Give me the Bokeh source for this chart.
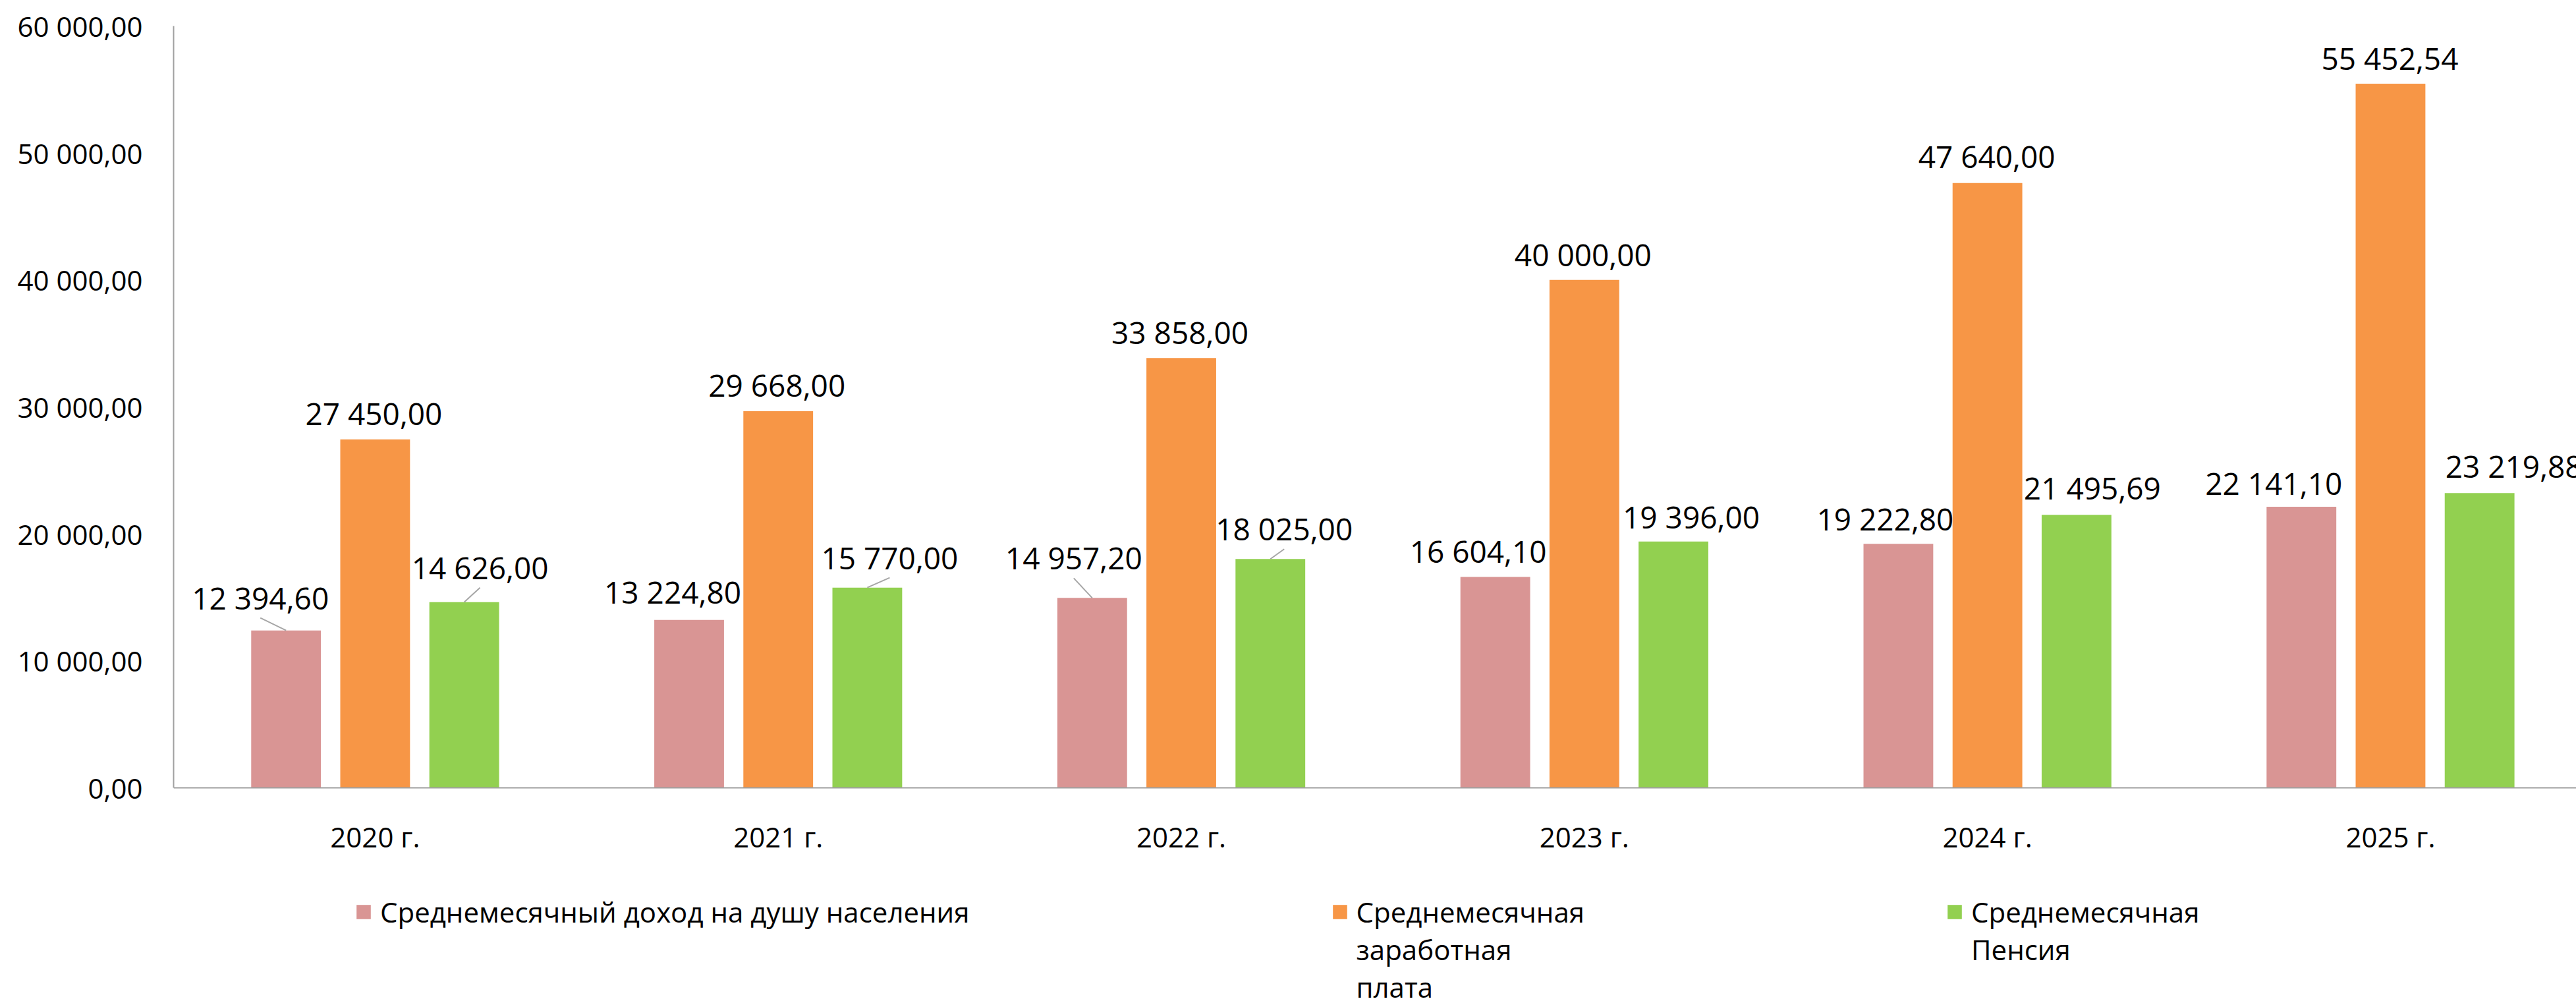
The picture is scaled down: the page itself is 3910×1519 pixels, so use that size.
import numpy as np
from bokeh.plotting import figure
from bokeh.models import Range1d, FixedTicker, ColumnDataSource, Legend, LegendItem
from bokeh.transform import dodge
from bokeh.core.properties import value
from bokeh.embed import file_html
from bokeh.resources import INLINE

# ---------------- data ----------------
years = ["2020 г.", "2021 г.", "2022 г.", "2023 г.", "2024 г.", "2025 г."]
income = [12394.60, 13224.80, 14957.20, 16604.10, 19222.80, 22141.10]
salary = [27450.00, 29668.00, 33858.00, 40000.00, 47640.00, 55452.54]
pension = [14626.00, 15770.00, 18025.00, 19396.00, 21495.69, 23219.88]
series_names = [
    ["Среднемесячный доход на душу населения"],
    ["Среднемесячная", "заработная", "плата"],
    ["Среднемесячная", "Пенсия"],
]
y_ticks = [0, 10000, 20000, 30000, 40000, 50000, 60000]

# ---------------- styling ----------------
colors = ["#D99594", "#F79646", "#92D050"]
dodges = [-0.221, 0.0, 0.221]
bar_w = 0.173
FONT = "Open Sans"
FS = "42px"
LFS = "46px"
# label placement (screen px): horizontal shift and height of label centre above bar top
lbl_dx = [[-39, -25, -28, -26, -20, -42],
          [-2, -2, -2, -2, -1, -1],
          [24, 34, 21, 27, 24, 52]]
lbl_dy = [[50, 43, 61, 40, 38, 36],
          [40, 40, 39, 39, 41, 39],
          [53, 46, 46, 38, 41, 41]]
leader = [[1, 0, 1, 0, 0, 0],
          [0, 0, 0, 0, 0, 0],
          [1, 1, 1, 0, 0, 0]]


def fmt(v):
    return f"{v:,.2f}".replace(",", " ").replace(".", ",")


def legend_label(lines):
    # pad with blank lines above so the swatch (centred on the item) sits on the first line
    pad = ["\u00a0"] * (len(lines) - 1)
    return "\n".join(pad + lines)


W, H = 3910, 1519
TOP, ZERO_PX = 39, 1195          # frame top and pixel row of the value 0
units_per_px = y_ticks[-1] / (ZERO_PX - TOP)
y_bottom = -(H - ZERO_PX) * units_per_px   # plot area continues below 0 for labels/legend

p = figure(width=W, height=H, output_backend="svg", toolbar_location=None,
           x_range=Range1d(0, 5.961), y_range=Range1d(y_bottom, y_ticks[-1]),
           min_border_left=263, min_border_right=0, min_border_top=TOP,
           min_border_bottom=0)
p.background_fill_color = "white"
p.border_fill_color = "white"
p.outline_line_color = None
p.xgrid.grid_line_color = None
p.ygrid.grid_line_color = None

xs = list(np.arange(len(years)) + 0.5)
renderers = []
for k, vals in enumerate([income, salary, pension]):
    dx = np.array(lbl_dx[k], dtype=float)
    dy = np.array(lbl_dy[k], dtype=float)
    src = ColumnDataSource(dict(
        x=xs, v=vals, t=[fmt(v) for v in vals],
        xo=list(dx), yo=list(-dy),
    ))
    r = p.vbar(x=dodge("x", dodges[k], range=p.x_range), top="v", width=bar_w,
               source=src, fill_color=colors[k], line_color=None)
    renderers.append(r)
    p.text(x=dodge("x", dodges[k], range=p.x_range), y="v", text="t", source=src,
           x_offset="xo", y_offset="yo", text_align="center",
           text_baseline="middle", text_font=value(FONT),
           text_font_size=value(LFS), text_color="black")
    idx = [i for i in range(len(years)) if leader[k][i]]
    if idx:
        ldx = dx[idx]
        ldy = dy[idx] - 31
        lsrc = ColumnDataSource(dict(
            x=[xs[i] for i in idx], v=[vals[i] for i in idx],
            ln=list(np.hypot(ldx, ldy)), ang=list(np.arctan2(ldy, ldx)),
        ))
        p.ray(x=dodge("x", dodges[k], range=p.x_range), y="v", length="ln",
              length_units="screen", angle="ang", source=lsrc,
              line_color="#A6A6A6", line_width=2)

# axes
p.xaxis.fixed_location = 0
p.xaxis.ticker = FixedTicker(ticks=xs)
p.xaxis.major_label_overrides = {x: y for x, y in zip(xs, years)}
p.yaxis.ticker = FixedTicker(ticks=y_ticks)
p.yaxis.bounds = (0, y_ticks[-1])
p.yaxis.major_label_overrides = {t: fmt(t) for t in y_ticks}
for ax in (p.xaxis[0], p.yaxis[0]):
    ax.axis_line_color = "#A0A0A0"
    ax.axis_line_width = 2
    ax.major_tick_line_color = None
    ax.minor_tick_line_color = None
    ax.major_label_text_font = FONT
    ax.major_label_text_font_size = "42px"
    ax.major_label_text_color = "black"
p.yaxis.major_label_standoff = 41
p.xaxis.major_label_standoff = 39

legend = Legend(
    items=[LegendItem(label=legend_label(series_names[i]), renderers=[renderers[i]])
           for i in range(3)],
    orientation="horizontal", location=(275, -7), spacing=548,
    glyph_width=27, glyph_height=27, label_standoff=12,
    padding=0, margin=0, border_line_color=None, background_fill_alpha=0,
    label_text_font=FONT, label_text_font_size=FS, label_text_line_height=1.4,
    label_text_color="black",
)
p.add_layout(legend, "center")

open("out.html", "w").write(file_html(p, INLINE))
